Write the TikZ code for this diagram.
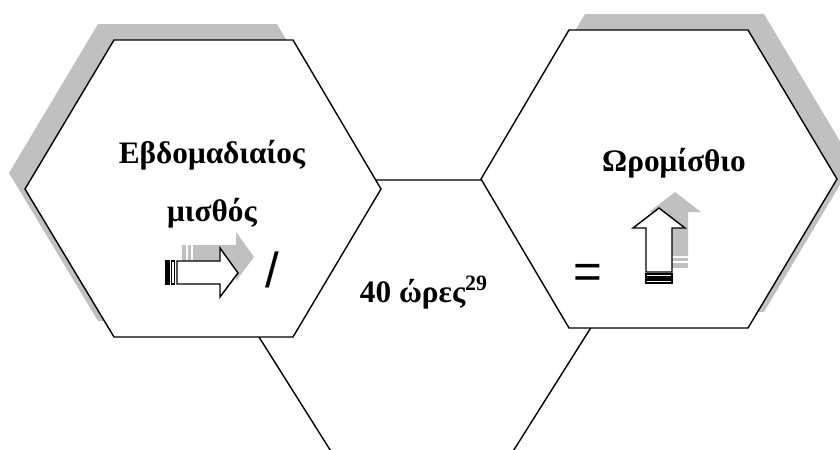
\documentclass[tikz,border=0pt]{standalone}
\usepackage{fontspec}
\usepackage{xcolor}
\setmainfont{Liberation Serif}
\newfontfamily\arialfont{Liberation Sans}
\definecolor{shadegray}{HTML}{C0C0C0}
\tikzset{
    hexagon/.style={draw=black, line width=0.8pt, fill=white, line join=miter},
    hexshadow/.style={fill=shadegray},
    arrowbody/.style={draw=black, line width=0.8pt, fill=white},
    arrowshade/.style={fill=shadegray},
    title/.style={font=\fontsize{17.8}{21}\selectfont\bfseries, inner sep=0pt, anchor=base},
    symbol/.style={font=\arialfont\fontsize{28}{30}\selectfont, inner sep=0pt}
}

\begin{document}
\begin{tikzpicture}[x=0.02cm, y=-0.02cm]
    \useasboundingbox (0,0) rectangle (840,450);
    \begin{scope}
    \clip (0,0) rectangle (840,450);

    % Middle hexagon (mostly hidden)
    \draw[hexagon] (247.4,318.6) -- (334.7,180) -- (509.3,180) -- (596.6,318.6)
        -- (509.3,457.2) -- (334.7,457.2) -- cycle;

    % Left hexagon with shadow
    \fill[hexshadow] (9,173) -- (98,24) -- (277,24) -- (365,173) -- (277,321) -- (98,321) -- cycle;
    \draw[hexagon] (25,189) -- (114,40) -- (293,40) -- (381,189) -- (293,337) -- (114,337) -- cycle;

    % Right hexagon with shadow
    \fill[hexshadow] (497,163) -- (585,14) -- (764,14) -- (853,163) -- (764,312) -- (585,312) -- cycle;
    \draw[hexagon] (481,179) -- (569,30) -- (748,30) -- (837,179) -- (748,328) -- (569,328) -- cycle;
    \end{scope}

    % Striped arrow to the right
    \begin{scope}[shift={(16,-16)}]
        \fill[arrowshade] (177,261) -- (220,261) -- (220,248) -- (238,273) -- (220,297) -- (220,284) -- (177,284) -- cycle;
        \fill[arrowshade] (166,261) rectangle (169.5,284);
        \fill[arrowshade] (171.5,261) rectangle (174.5,284);
    \end{scope}
    \draw[arrowbody] (177,261) -- (220,261) -- (220,248) -- (238,273) -- (220,297) -- (220,284) -- (177,284) -- cycle;
    \draw[arrowbody, line width=1.2pt] (166.5,261) rectangle (169,284);
    \draw[arrowbody] (171.5,261) rectangle (174.5,284);

    % Striped arrow upwards
    \begin{scope}[shift={(16,-16)}]
        \fill[arrowshade] (646,272) -- (646,228) -- (633,228) -- (659,208) -- (685,228) -- (672,228) -- (672,272) -- cycle;
        \fill[arrowshade] (646,274) rectangle (672,277);
        \fill[arrowshade] (646,279) rectangle (672,283.5);
    \end{scope}
    \draw[arrowbody] (646,272) -- (646,228) -- (633,228) -- (659,208) -- (685,228) -- (672,228) -- (672,272) -- cycle;
    \draw[arrowbody] (646,274) rectangle (672,277);
    \draw[arrowbody, line width=1.2pt] (646,279.5) rectangle (672,283);

    % Texts
    \node[title] (weekly) at (212,163) {Εβδομαδιαίος};
    \node[title] (salary) at (212,221) {μισθός};
    \node[title] (hours) at (424,302) {40 ώρες\textsuperscript{29}};
    \node[title] (hourly) at (674,171) {Ωρομίσθιο};
    \node[symbol] (divide) at (272,270) {/};
    \node[symbol] (equals) at (588,276) {=};

\end{tikzpicture}
\end{document}
